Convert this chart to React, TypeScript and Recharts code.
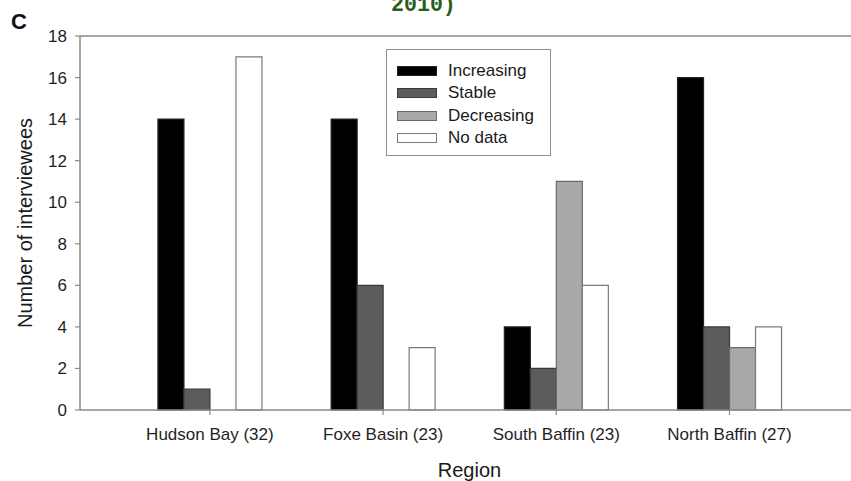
import React from 'react';
import { BarChart, Bar, XAxis, YAxis, Legend, ReferenceLine } from 'recharts';

const categories = ['Hudson Bay (32)', 'Foxe Basin (23)', 'South Baffin (23)', 'North Baffin (27)'];
const increasing = [14, 14, 4, 16];
const stable = [1, 6, 2, 4];
const decreasing = [0, 0, 11, 3];
const noData = [17, 3, 6, 4];
const yTicks = [0, 2, 4, 6, 8, 10, 12, 14, 16, 18];

const seriesNames = ['Increasing', 'Stable', 'Decreasing', 'No data'];
const seriesKeys = ['increasing', 'stable', 'decreasing', 'noData'];
const seriesFill = ['#000000', '#5c5c5c', '#a9a9a9', '#ffffff'];
const seriesStroke = ['#222222', '#3a3a3a', '#6a6a6a', '#7a7a7a'];

const data = categories.map((c, i) => ({
  region: c,
  increasing: increasing[i],
  stable: stable[i],
  decreasing: decreasing[i],
  noData: noData[i],
}));

const FONT = '"Liberation Sans", Arial, sans-serif';

const renderLegend = () => (
  <div
    style={{
      width: 163,
      height: 105,
      border: '1.5px solid #8f8f8f',
      background: '#fff',
      boxSizing: 'content-box',
      fontFamily: FONT,
      fontSize: 17,
      color: '#1a1a1a',
      position: 'relative',
    }}
  >
    {seriesNames.map((n, i) => (
      <div
        key={n}
        style={{
          position: 'absolute',
          left: 10,
          top: 10 + i * 22.3,
          height: 22,
          display: 'flex',
          alignItems: 'center',
        }}
      >
        <div
          style={{
            width: 38,
            height: 8,
            background: seriesFill[i],
            border: `1px solid ${seriesStroke[i]}`,
            marginRight: 11,
          }}
        />
        <span style={{ lineHeight: '22px' }}>{n}</span>
      </div>
    ))}
  </div>
);

const YLabel = (props: any) => {
  const vb = props.viewBox || {};
  const cx = 25;
  const cy = vb.y + vb.height / 2;
  return (
    <text
      x={cx}
      y={cy}
      transform={`rotate(-90, ${cx}, ${cy})`}
      textAnchor="middle"
      dominantBaseline="central"
      fontFamily={FONT}
      fontSize={20}
      fill="#1a1a1a"
    >
      Number of interviewees
    </text>
  );
};

const XLabel = () => (
  <text
    x={469.5}
    y={477}
    textAnchor="middle"
    fontFamily={FONT}
    fontSize={20}
    fill="#1a1a1a"
  >
    Region
  </text>
);

export default function App() {
  return (
    <div
      style={{
        position: 'absolute',
        left: 0,
        top: 0,
        width: 851,
        height: 481,
        overflow: 'hidden',
        background: '#fff',
      }}
    >
      <BarChart
        width={880}
        height={481}
        data={data}
        margin={{ top: 36, right: 20.6, bottom: 0, left: 0 }}
        barCategoryGap="20%"
        barGap={0}
      >
        <XAxis
          dataKey="region"
          height={71}
          padding={{ left: 43.3, right: 43.3 }}
          axisLine={{ stroke: '#8a8a8a', strokeWidth: 1.5 }}
          tickLine={{ stroke: '#8a8a8a', strokeWidth: 1.2 }}
          tickSize={5}
          tickMargin={13}
          tick={{ fontFamily: FONT, fontSize: 17, fill: '#1f1f1f' }}
          interval={0}
          label={<XLabel />}
        />
        <YAxis
          width={80}
          domain={[0, 18]}
          ticks={yTicks}
          interval={0}
          axisLine={{ stroke: '#8a8a8a', strokeWidth: 1.5 }}
          tickLine={{ stroke: '#8a8a8a', strokeWidth: 1.2 }}
          tickSize={5}
          tickMargin={8}
          tick={{ fontFamily: FONT, fontSize: 17, fill: '#1f1f1f' }}
          label={<YLabel />}
        />
        <ReferenceLine y={18} stroke="#8a8a8a" strokeWidth={1.5} ifOverflow="visible" />
        {seriesKeys.map((k, i) => (
          <Bar
            key={k}
            dataKey={k}
            name={seriesNames[i]}
            fill={seriesFill[i]}
            stroke={seriesStroke[i]}
            strokeWidth={1.2}
            isAnimationActive={false}
          />
        ))}
        <Legend
          layout="horizontal"
          verticalAlign="middle"
          align="center"
          content={renderLegend}
          wrapperStyle={{ position: 'absolute', left: 386, top: 49, width: 166, height: 108 }}
        />
      </BarChart>
      <svg
        width={851}
        height={481}
        style={{ position: 'absolute', left: 0, top: 0, pointerEvents: 'none' }}
      >
        <text x={11} y={29} fontFamily={FONT} fontWeight="bold" fontSize={22} fill="#111">
          C
        </text>
        <text
          x={391}
          y={11}
          fontFamily='"Liberation Mono", "DejaVu Sans Mono", monospace'
          fontWeight="bold"
          fontSize={21.6}
          fill="#2b5d1a"
        >
          2010)
        </text>
      </svg>
    </div>
  );
}
